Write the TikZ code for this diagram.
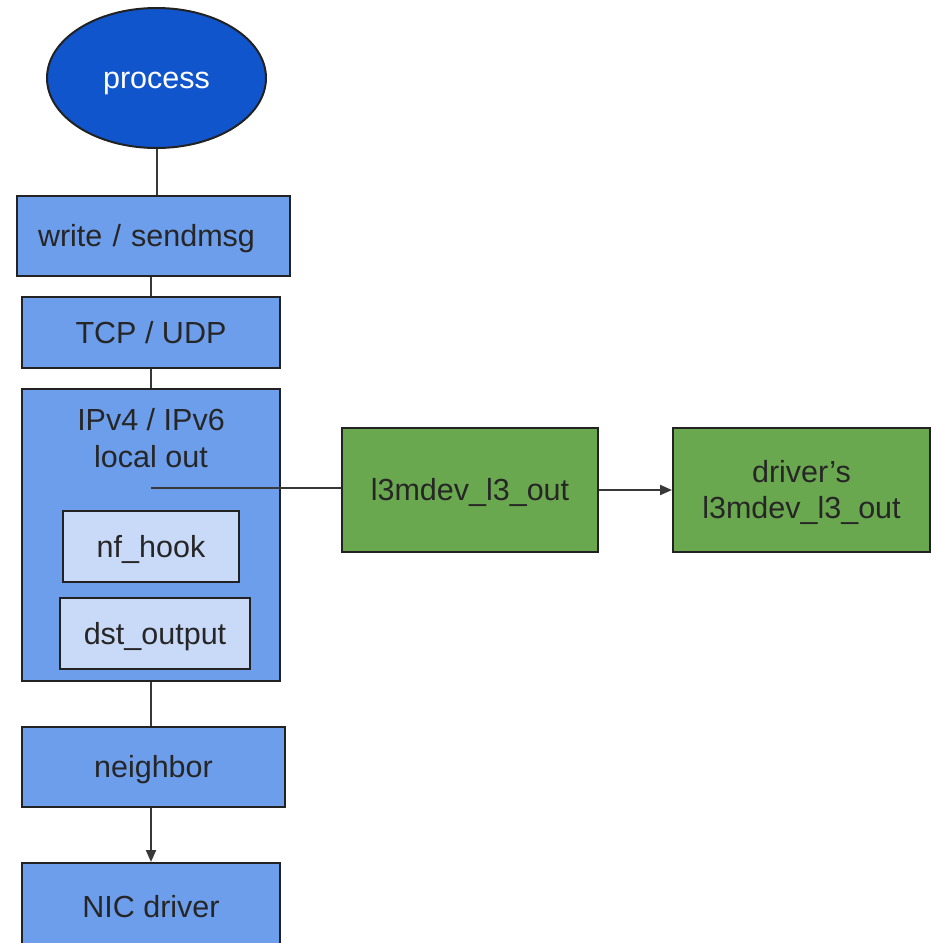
\documentclass[tikz,border=0pt]{standalone}
\usepackage{fontspec}
\setmainfont{Liberation Sans}
\usetikzlibrary{shapes.geometric,arrows.meta}
\definecolor{bluebox}{HTML}{6D9EEB}
\definecolor{darkblue}{HTML}{1155CC}
\definecolor{lightblue}{HTML}{C9DAF8}
\definecolor{greenbox}{HTML}{6AA84F}
\definecolor{edge}{HTML}{222222}
\tikzset{
  txt/.style={font=\fontsize{30.5}{36.5}\selectfont, text=black!85, inner sep=0pt,
    text height=27.6pt, text depth=6.5pt, align=center},
  twoline/.style={text height=64.1pt, text depth=6.5pt},
  base/.style={txt, draw=edge, line width=2pt},
  bbox/.style={base, rectangle, fill=bluebox},
  lbox/.style={base, rectangle, fill=lightblue},
  gbox/.style={base, rectangle, fill=greenbox},
  conn/.style={draw=edge!90, line width=2pt},
  arr/.style={conn, -{Triangle[length=12pt,width=10pt]}}
}
\begin{document}
\begin{tikzpicture}[x=1pt,y=-1pt]
\clip (0,0) rectangle (936,943);
\useasboundingbox (0,0) rectangle (936,943);
\fill[white] (0,0) rectangle (936,943);

\node[base, ellipse, fill=darkblue, text=white, minimum width=219pt, minimum height=140pt] (proc) at (156.5,78) {process};
\node[bbox, minimum width=273pt, minimum height=80pt, text width=231pt, align=left] (write) at (153.5,236) {write / sendmsg};
\node[bbox, minimum width=258pt, minimum height=71pt] (tcp) at (151,332.5) {TCP / UDP};
\node[bbox, minimum width=258pt, minimum height=292pt] (ip) at (151,535) {};
\node[txt, twoline, anchor=north] (iptext) at (151,403) {IPv4 / IPv6\\local out};
\node[lbox, minimum width=176pt, minimum height=71pt] (nf) at (151,546.5) {nf\_hook};
\node[lbox, minimum width=190pt, minimum height=71pt] (dst) at (155,633.5) {dst\_output};
\node[bbox, minimum width=263pt, minimum height=80pt] (nb) at (153.5,767) {neighbor};
\node[bbox, minimum width=258pt, minimum height=100pt] (nic) at (151,913) {};
\node[txt] (nictext) at (151,907) {NIC driver};
\node[gbox, minimum width=256pt, minimum height=124pt] (g1) at (470,490) {l3mdev\_l3\_out};
\node[gbox, twoline, minimum width=257pt, minimum height=124pt] (g2) at (801.5,490) {driver’s\\l3mdev\_l3\_out};

\coordinate (ipstart) at (151,488);

\draw[conn] (proc.south) -- (proc.south |- write.north);
\draw[conn] (write.south -| tcp.north) -- (tcp.north);
\draw[conn] (tcp.south) -- (ip.north);
\draw[conn] (ip.south) -- (ip.south |- nb.north);
\draw[arr] (nb.south -| nic.north) -- (nic.north);
\draw[conn] (ipstart) -- (ipstart -| g1.west);
\draw[arr] (g1.east) -- (g2.west);
\end{tikzpicture}
\end{document}
